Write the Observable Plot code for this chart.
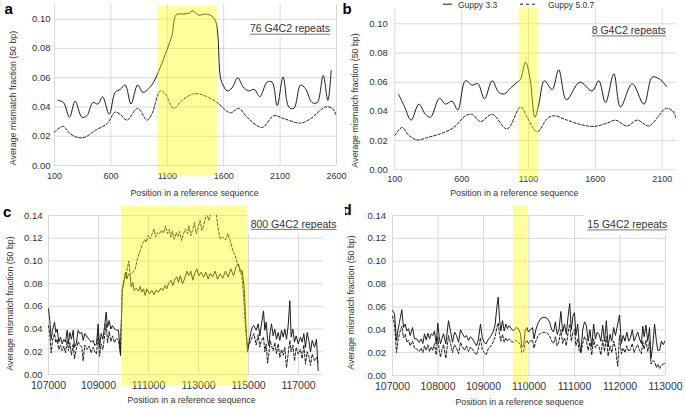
<!DOCTYPE html>
<html><head><meta charset="utf-8">
<script src="https://cdn.jsdelivr.net/npm/d3@7"></script>
<script src="https://cdn.jsdelivr.net/npm/@observablehq/plot@0.6"></script>
<style>
body{margin:0;background:#fff}
#root{position:relative;width:685px;height:409px;overflow:hidden;background:#fff;font-family:'Liberation Sans',Arial,sans-serif}
#root > svg{position:absolute;margin:0}
</style></head><body><div id="root"></div>
<script>
// ---------- DATA ----------
const seriesNames = ["Guppy 3.3", "Guppy 5.0.7"];
const yTitle = "Average mismatch fraction (50 bp)";
const xTitle = "Position in a reference sequence";

// panel a (76 G4C2 repeats)
const aXTicks = [100, 600, 1100, 1600, 2100, 2600];
const aYTicks = [0, 0.02, 0.04, 0.06, 0.08, 0.10];
const aHighlight = [1017, 1544];
const aSolidPos = [130,180,233,283,343,387,440,485,526,585,638,683,727,778,837,884,934,979,1038,1097,1142,1180,1245,1290,1328,1378,1428,1481,1526,1547,1570,1594,1630,1674,1724,1772,1822,1872,1920,1985,2029,2074,2127,2177,2222,2281,2325,2384,2429,2482,2523,2553];
const aSolidVal = [0.0445,0.043,0.033,0.044,0.033,0.034,0.043,0.042,0.047,0.035,0.050,0.052,0.055,0.042,0.055,0.050,0.0525,0.057,0.067,0.079,0.089,0.103,0.1035,0.104,0.1057,0.1027,0.1034,0.1027,0.099,0.090,0.0605,0.055,0.051,0.053,0.060,0.0537,0.051,0.052,0.047,0.057,0.057,0.041,0.0605,0.040,0.039,0.055,0.0525,0.043,0.043,0.0616,0.0445,0.065];
const aDashPos = [100,150,180,239,313,372,461,565,638,683,742,837,920,964,1038,1082,1156,1230,1334,1423,1541,1659,1733,1807,1940,2044,2133,2281,2370,2503,2562,2600];
const aDashVal = [0.0228,0.026,0.0267,0.0217,0.019,0.0194,0.024,0.0285,0.0365,0.035,0.031,0.039,0.031,0.0354,0.051,0.049,0.039,0.0445,0.049,0.048,0.043,0.036,0.039,0.033,0.026,0.034,0.032,0.029,0.032,0.040,0.039,0.034];

// panel b (8 G4C2 repeats)
const bXTicks = [100, 600, 1100, 1600, 2100];
const bYTicks = [0, 0.02, 0.04, 0.06, 0.08, 0.10];
const bHighlight = [1028, 1177];
const bSolidPos = [129,172,222,280,329,367,434,479,528,571,628,679,721,771,828,878,920,965,1016,1040,1078,1110,1148,1177,1219,1277,1326,1384,1484,1576,1626,1676,1738,1788,1876,1963,2026,2082,2133];
const bSolidVal = [0.0516,0.0434,0.034,0.045,0.038,0.036,0.049,0.045,0.047,0.041,0.061,0.058,0.059,0.0486,0.061,0.053,0.052,0.056,0.060,0.062,0.0737,0.0635,0.036,0.045,0.061,0.055,0.0685,0.048,0.060,0.054,0.061,0.046,0.0657,0.043,0.059,0.045,0.0635,0.062,0.057];
const bDashPos = [100,155,205,267,354,441,541,628,679,741,828,940,1040,1090,1165,1239,1290,1389,1489,1589,1689,1751,1838,1913,2000,2075,2125,2175,2207];
const bDashVal = [0.0235,0.029,0.0235,0.0205,0.0224,0.0247,0.029,0.037,0.038,0.033,0.038,0.028,0.043,0.036,0.026,0.035,0.037,0.034,0.031,0.0297,0.032,0.034,0.030,0.034,0.030,0.037,0.042,0.0406,0.0345];

// panel c (800 G4C2 repeats)
const cXTicks = [107000, 109000, 111000, 113000, 115000, 117000];
const cYTicks = [0, 0.02, 0.04, 0.06, 0.08, 0.10, 0.12, 0.14];
const cHighlight = [109920, 115000];
const cLeftPos = [107000,107053,107107,107160,107240,107293,107347,107413,107480,107547,107613,107680,107747,107800,107853,107920,107987,108040,108107,108187,108253,108333,108387,108453,108547,108627,108707,108787,108853,108920,108987,109040,109107,109173,109240,109307,109360,109427,109493,109560,109640,109720,109800,109880];
const cLeftSolid = [0.058,0.0475,0.031,0.039,0.046,0.037,0.040,0.0285,0.033,0.027,0.031,0.0285,0.039,0.027,0.037,0.031,0.039,0.024,0.027,0.039,0.036,0.037,0.030,0.036,0.033,0.031,0.0285,0.030,0.0255,0.027,0.0446,0.024,0.036,0.031,0.0417,0.055,0.0417,0.0475,0.040,0.043,0.040,0.039,0.039,0.0167];
const cLeftDash = [0.043,0.035,0.019,0.030,0.036,0.028,0.031,0.022,0.026,0.021,0.025,0.019,0.030,0.021,0.028,0.017,0.027,0.014,0.022,0.029,0.026,0.024,0.012,0.026,0.022,0.025,0.019,0.024,0.020,0.018,0.037,0.016,0.027,0.022,0.033,0.045,0.028,0.038,0.029,0.034,0.028,0.032,0.030,0.018];
const cInSolidPos = [109947,110027,110080,110133,110200,110267,110307,110373,110427,110507,110600,110667,110733,110800,110867,110933,111040,111133,111227,111307,111400,111493,111573,111667,111733,111800,111893,111973,112040,112133,112200,112267,112360,112440,112533,112613,112693,112773,112840,112933,113013,113107,113200,113293,113387,113467,113560,113667,113760,113867,113973,114080,114187,114293,114400,114507,114600,114667,114747,114827,114893,114960];
const cInSolidVal = [0.074,0.083,0.090,0.084,0.0886,0.087,0.077,0.081,0.074,0.076,0.0734,0.0775,0.0725,0.0754,0.0696,0.0754,0.071,0.074,0.0704,0.0745,0.0725,0.076,0.074,0.0784,0.0754,0.080,0.083,0.0784,0.083,0.086,0.081,0.087,0.080,0.084,0.091,0.087,0.091,0.083,0.0886,0.093,0.087,0.090,0.0857,0.090,0.084,0.089,0.086,0.091,0.084,0.0886,0.085,0.091,0.0857,0.093,0.087,0.095,0.0974,0.090,0.0916,0.077,0.0446,0.0197];
const cInDashPos = [109947,110027,110107,110160,110213,110267,110373,110467,110560,110667,110773,110853,110907,110987,111067,111147,111227,111280,111360,111440,111520,111600,111680,111760,111840,111893,111960,112027,112107,112173,112240,112320,112400,112480,112560,112613,112693,112773,112840,112907,112987,113067,113133,113200,113267,113333,113413,113493,113600,113707,113800,113867,113973,114080,114173,114267,114373,114467,114560,114640,114733,114800,114880,114960];
const cInDashVal = [0.074,0.084,0.087,0.0945,0.100,0.088,0.090,0.093,0.102,0.109,0.1156,0.1186,0.1165,0.1224,0.1195,0.1239,0.128,0.121,0.125,0.124,0.127,0.1245,0.131,0.124,0.128,0.121,0.126,0.119,0.125,0.1215,0.126,0.118,0.124,0.128,0.124,0.131,0.1224,0.128,0.134,0.124,0.1297,0.1356,0.127,0.131,0.137,0.1415,0.1356,0.1415,0.142,0.1415,0.127,0.1195,0.121,0.1186,0.124,0.118,0.109,0.105,0.0974,0.0945,0.087,0.071,0.0417,0.024];
const cRightPos = [115080,115147,115213,115307,115387,115453,115520,115600,115653,115707,115760,115813,115867,115920,115987,116053,116120,116187,116253,116320,116387,116453,116520,116587,116653,116707,116773,116840,116907,116987,117080,117147,117213,117280,117347,117413,117480,117547,117640,117720,117787];
const cRightSolid = [0.0358,0.0417,0.043,0.039,0.0446,0.034,0.0446,0.056,0.039,0.046,0.031,0.0255,0.037,0.0446,0.034,0.040,0.031,0.037,0.030,0.039,0.033,0.040,0.031,0.043,0.065,0.033,0.040,0.0285,0.034,0.027,0.033,0.0285,0.036,0.024,0.037,0.030,0.0197,0.030,0.024,0.031,0.0035];
const cRightDash = [0.029,0.033,0.036,0.026,0.035,0.024,0.030,0.033,0.020,0.027,0.010,0.018,0.030,0.025,0.021,0.028,0.018,0.027,0.015,0.022,0.017,0.024,0.006,0.018,0.030,0.020,0.026,0.012,0.024,0.018,0.022,0.014,0.026,0.009,0.020,0.016,0.008,0.018,0.012,0.015,0.010];

// panel d (15 G4C2 repeats)
const dXTicks = [107000, 108000, 109000, 110000, 111000, 112000, 113000];
const dYTicks = [0, 0.02, 0.04, 0.06, 0.08, 0.10, 0.12, 0.14];
const dHighlight = [109660, 109970];
const dPos = [107000,107044,107088,107117,107154,107205,107242,107278,107315,107352,107388,107440,107484,107535,107586,107630,107667,107703,107740,107777,107813,107850,107886,107923,107960,107996,108026,108055,108084,108121,108172,108231,108275,108319,108363,108407,108451,108495,108538,108582,108626,108670,108714,108758,108802,108846,108890,108934,108971,109015,109059,109110,109169,109220,109257,109293,109323,109352,109381,109418,109455,109491,109527,109564,109608,109659,109711,109769,109813,109842,109879,109916,109952,109989,110026,110077,
  110110,110150,110200,110260,110330,110400,110450,110500,110540,110580,110620,110660,110700,110740,110780,110820,110860,110895,110930,110965,111000,111030,111070,111100,111140,111180,111220,111260,111300,111340,111380,111420,111460,111500,111540,111580,111620,111660,111700,111740,111780,111820,111860,111900,111950,111990,112030,112070,112110,112150,112190,112230,112270,112310,112350,112390,112430,112470,112500,112530,112570,112610,112650,112680,112720,112760,112800,112830,112870,112910,112950,113000];
const dSolid = [0.057,0.054,0.0306,0.039,0.0467,0.0575,0.042,0.045,0.039,0.041,0.035,0.042,0.032,0.032,0.029,0.032,0.028,0.0365,0.031,0.037,0.032,0.0365,0.035,0.039,0.0277,0.0458,0.0335,0.0277,0.032,0.0365,0.0277,0.048,0.039,0.029,0.038,0.035,0.029,0.040,0.0365,0.0335,0.035,0.0306,0.034,0.032,0.029,0.026,0.032,0.045,0.0335,0.029,0.0277,0.032,0.035,0.039,0.045,0.0598,0.0685,0.0496,0.039,0.048,0.039,0.045,0.041,0.0437,0.041,0.039,0.042,0.041,0.0365,0.0248,0.026,0.039,0.042,0.038,0.040,0.042,
  0.032,0.040,0.046,0.050,0.051,0.050,0.047,0.040,0.038,0.047,0.036,0.040,0.056,0.038,0.045,0.036,0.052,0.063,0.040,0.052,0.055,0.035,0.045,0.030,0.020,0.040,0.047,0.044,0.030,0.040,0.025,0.045,0.032,0.038,0.036,0.030,0.044,0.030,0.048,0.025,0.036,0.030,0.042,0.035,0.045,0.053,0.028,0.035,0.030,0.038,0.030,0.033,0.040,0.030,0.034,0.038,0.032,0.028,0.043,0.034,0.044,0.030,0.042,0.015,0.026,0.045,0.030,0.022,0.022,0.030,0.027,0.031];
const dDash = [0.052,0.045,0.020,0.030,0.037,0.043,0.033,0.036,0.029,0.031,0.026,0.030,0.024,0.023,0.021,0.024,0.020,0.026,0.022,0.027,0.021,0.025,0.022,0.028,0.018,0.034,0.022,0.016,0.022,0.027,0.015,0.035,0.028,0.020,0.027,0.024,0.019,0.029,0.025,0.022,0.026,0.021,0.025,0.023,0.020,0.018,0.024,0.033,0.023,0.020,0.018,0.024,0.026,0.030,0.034,0.042,0.046,0.036,0.030,0.036,0.029,0.033,0.030,0.032,0.030,0.029,0.031,0.029,0.027,0.020,0.021,0.028,0.031,0.028,0.030,0.031,
  0.024,0.030,0.035,0.037,0.038,0.037,0.035,0.030,0.028,0.034,0.026,0.030,0.040,0.028,0.033,0.026,0.038,0.045,0.030,0.038,0.040,0.026,0.032,0.022,0.020,0.028,0.034,0.031,0.022,0.029,0.018,0.032,0.024,0.027,0.025,0.018,0.031,0.021,0.034,0.017,0.026,0.020,0.030,0.024,0.008,0.035,0.019,0.024,0.020,0.026,0.021,0.023,0.028,0.020,0.024,0.027,0.022,0.019,0.030,0.023,0.031,0.021,0.030,0.010,0.013,0.012,0.007,0.010,0.006,0.009,0.010,0.011];

const repeatLabels = ["76 G4C2 repeats", "8 G4C2 repeats", "800 G4C2 repeats", "15 G4C2 repeats"];
const panelLetters = ["a", "b", "c", "d"];

// ---------- DRAWING ----------
const FONT = "'Liberation Sans', Arial, Helvetica, sans-serif";
const root = document.getElementById("root");
const toPts = (pos, val) => pos.map((x, i) => ({x, y: val[i]}));
const INK = "#1c1c1c", GRID = "#d9d9d9", TXT = "#333";

function panel(c) {
  const marks = [
    Plot.gridY({ticks: c.yTicks, stroke: GRID, strokeOpacity: 1, strokeWidth: 1}),
    Plot.gridX({ticks: c.xTicks, stroke: GRID, strokeOpacity: 1, strokeWidth: 1}),
    Plot.axisX({ticks: c.xTicks, tickSize: 0, tickPadding: c.xPad, tickFormat: d3.format("d"), fontSize: c.xFont, fill: TXT, label: null}),
    Plot.axisY({ticks: c.yTicks, tickSize: 0, tickPadding: c.yPad, tickFormat: d3.format(".2f"), fontSize: 9.5, fill: TXT, label: null}),
    Plot.line(toPts(c.solidX, c.solidY), {x: "x", y: "y", stroke: INK, strokeWidth: 1, curve: c.curve, clip: true}),
    Plot.line(toPts(c.dashX, c.dashY), {x: "x", y: "y", stroke: INK, strokeWidth: 1, strokeDasharray: "2.6,1.8", curve: c.curve, clip: true}),
    Plot.rect([{x1: c.hl[0], x2: c.hl[1], y1: c.hlY[0], y2: c.hlY[1]}], {x1: "x1", x2: "x2", y1: "y1", y2: "y2", fill: "#ffff00", fillOpacity: 0.38}),
    Plot.text([yTitle], {text: d => d, frameAnchor: "left", dx: c.ytd[0], dy: c.ytd[1], rotate: -90, textAnchor: "middle", lineAnchor: "middle", fontSize: 8.8, fill: TXT}),
    Plot.text([xTitle], {text: d => d, frameAnchor: "bottom", dx: c.xtd[0], dy: c.xtd[1], textAnchor: "middle", lineAnchor: "middle", fontSize: 8.8, fill: TXT})
  ];
  const svg = Plot.plot({
    width: c.w, height: c.h,
    marginLeft: c.m[0], marginRight: c.m[1], marginTop: c.m[2], marginBottom: c.m[3],
    x: {type: "linear", domain: c.xDomain},
    y: {type: "linear", domain: c.yDomain},
    style: {fontFamily: FONT, background: "transparent", overflow: "visible", color: TXT},
    marks
  });
  svg.style.position = "absolute";
  svg.style.left = c.left + "px";
  svg.style.top = c.top + "px";
  root.appendChild(svg);
}

panel({left: 0, top: 0, w: 342, h: 200, m: [54, 6, 4, 35],
  xDomain: [100, 2600], yDomain: [0, 0.11], xTicks: aXTicks, yTicks: aYTicks,
  xPad: 7, yPad: 4, xFont: 9,
  solidX: aSolidPos, solidY: aSolidVal, dashX: aDashPos, dashY: aDashVal, curve: "catmull-rom",
  hl: aHighlight, hlY: [-0.0068, 0.1088], ytd: [-41.3, 13], xtd: [-1, 28]});

panel({left: 340, top: 0, w: 345, h: 200, m: [54.3, 9, 8.7, 30.7],
  xDomain: [100, 2207], yDomain: [0, 0.11], xTicks: bXTicks, yTicks: bYTicks,
  xPad: 6, yPad: 7, xFont: 9,
  solidX: bSolidPos, solidY: bSolidVal, dashX: bDashPos, dashY: bDashVal, curve: "catmull-rom",
  hl: bHighlight, hlY: [-0.0068, 0.111], ytd: [-39.3, 11], xtd: [-21.4, 23.7]});

panel({left: 0, top: 200, w: 342, h: 209, m: [48, 19, 15, 35],
  xDomain: [107000, 118000], yDomain: [0, 0.14], xTicks: cXTicks, yTicks: cYTicks,
  xPad: 7, yPad: 6, xFont: 10.5,
  solidX: [...cLeftPos, ...cInSolidPos, ...cRightPos], solidY: [...cLeftSolid, ...cInSolidVal, ...cRightSolid],
  dashX: [...cLeftPos, ...cInDashPos, ...cRightPos], dashY: [...cLeftDash, ...cInDashVal, ...cRightDash],
  curve: "linear",
  hl: cHighlight, hlY: [-0.0097, 0.1479], ytd: [-38, 8.5], xtd: [5.5, 26]});

panel({left: 340, top: 200, w: 345, h: 209, m: [52, 20, 15, 34],
  xDomain: [107000, 113000], yDomain: [0, 0.14], xTicks: dXTicks, yTicks: dYTicks,
  xPad: 7, yPad: 6.5, xFont: 10.5,
  solidX: dPos, solidY: dSolid, dashX: dPos, dashY: dDash, curve: "linear",
  hl: dHighlight, hlY: [-0.007, 0.1479], ytd: [-41, 7], xtd: [-9.5, 26.7]});

// ---------- overlay: letters, legend, repeat labels ----------
const NS = "http://www.w3.org/2000/svg";
const ov = document.createElementNS(NS, "svg");
ov.setAttribute("width", 685); ov.setAttribute("height", 409);
ov.style.cssText = "position:absolute;left:0;top:0;overflow:visible;font-family:" + FONT;
root.appendChild(ov);
function el(tag, attrs) {
  const e = document.createElementNS(NS, tag);
  for (const k in attrs) e.setAttribute(k, attrs[k]);
  ov.appendChild(e);
  return e;
}
function txt(s, x, y, size, extra = {}) {
  const t = el("text", Object.assign({x, y, "font-size": size, fill: TXT}, extra));
  t.textContent = s;
  return t;
}
// panel letters
[[4.5, 13.7], [342.5, 13.7], [3, 217], [342.5, 215]].forEach(([x, y], i) =>
  txt(panelLetters[i], x, y, 15, {"font-weight": "bold", fill: "#000"}));

// legend
el("line", {x1: 443, x2: 452, y1: 4.2, y2: 4.2, stroke: INK, "stroke-width": 1});
txt(seriesNames[0], 458, 7.8, 8.5);
el("line", {x1: 520, x2: 535, y1: 4.2, y2: 4.2, stroke: INK, "stroke-width": 1, "stroke-dasharray": "3,3"});
txt(seriesNames[1], 548, 7.8, 8.5);

// repeat labels with white box and underline
const labelPos = [
  {x: 250, y: 32.3, box: [247, 23, 336, 37]},
  {x: 591.7, y: 34, box: [589, 25, 672, 38]},
  {x: 250.7, y: 227.5, box: [247, 208, 345, 234]},
  {x: 587.3, y: 228, box: [584, 208, 672, 234]}
];
labelPos.forEach((p, i) => {
  el("rect", {x: p.box[0], y: p.box[1], width: p.box[2] - p.box[0], height: p.box[3] - p.box[1], fill: "#fff"});
  const t = txt(repeatLabels[i], p.x, p.y, 10.5);
  const len = t.getComputedTextLength();
  el("line", {x1: p.x, x2: p.x + len, y1: p.y + 1.9, y2: p.y + 1.9, stroke: "#666", "stroke-width": 0.9});
});
</script></body></html>
